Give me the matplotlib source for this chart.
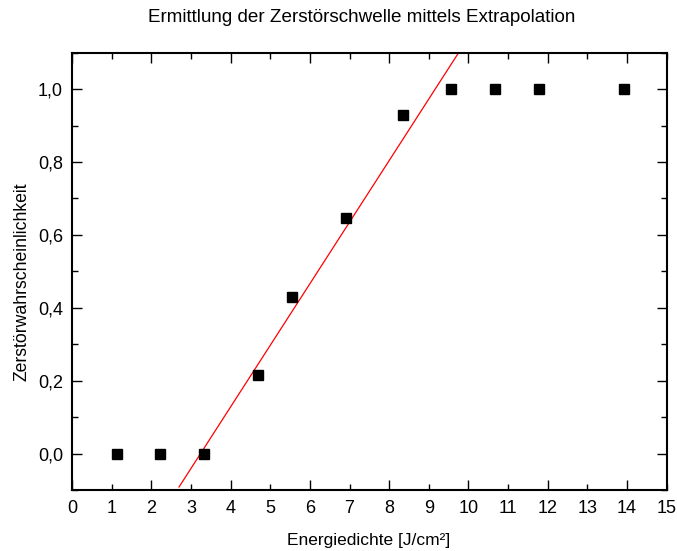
import matplotlib
matplotlib.use("Agg")
import matplotlib.pyplot as plt
import numpy as np
from matplotlib.ticker import MultipleLocator, FuncFormatter

# Data
energy = [1.13, 2.22, 3.33, 4.68, 5.55, 6.91, 8.36, 9.56, 10.66, 11.78, 13.93]
probability = [0.0, 0.0, 0.0, 0.215, 0.429, 0.646, 0.930, 1.0, 1.0, 1.0, 1.0]

# Linear extrapolation fit: y = slope * x + intercept
fit_slope = 0.169
fit_intercept = -0.548
fit_x_range = [2.70, 9.80]

title = "Ermittlung der Zerstörschwelle mittels Extrapolation"
xlabel = "Energiedichte [J/cm²]"
ylabel = "Zerstörwahrscheinlichkeit"

plt.rcParams['font.family'] = ['Liberation Sans', 'DejaVu Sans']

W, H = 677, 551
fig = plt.figure(figsize=(W / 100, H / 100), dpi=100)
ax = fig.add_axes([72 / W, 1 - 490 / H, (666.7 - 72) / W, (490 - 52.7) / H])

fx = np.array(fit_x_range)
ax.plot(fx, fit_slope * fx + fit_intercept, color='red', lw=0.9, zorder=2)
ax.plot(energy, probability, linestyle='none', marker='s', ms=7.2,
        color='black', zorder=3)

ax.set_xlim(0, 15)
ax.set_ylim(-0.1, 1.1)

ax.xaxis.set_major_locator(MultipleLocator(2))
ax.xaxis.set_minor_locator(MultipleLocator(1))
ax.xaxis.set_major_formatter(FuncFormatter(lambda v, p: f"{v:.0f}"))
ax.xaxis.set_minor_formatter(FuncFormatter(lambda v, p: f"{v:.0f}"))
ax.yaxis.set_major_locator(MultipleLocator(0.2))
ax.yaxis.set_minor_locator(MultipleLocator(0.1))
ax.yaxis.set_major_formatter(FuncFormatter(lambda v, p: f"{v:.1f}".replace('.', ',').replace('-0,0', '0,0')))

ax.tick_params(which='both', direction='in', top=True, right=True, width=1.0,
               labelsize=13, colors='black')
ax.tick_params(which='major', length=7)
ax.tick_params(which='minor', length=4)
ax.tick_params(axis='x', which='both', pad=7)
ax.tick_params(axis='y', which='both', pad=6.5)
ax.tick_params(axis='x', which='minor', labelbottom=True)
ax.tick_params(labeltop=False, labelright=False)

for s in ax.spines.values():
    s.set_linewidth(1.5)

fig.text(362 / W, 1 - 18 / H, title, ha='center', va='center', fontsize=13.6)
fig.text(369 / W, 1 - 540 / H, xlabel, ha='center', va='center', fontsize=12.5)
fig.text(22 / W, 1 - 281.5 / H, ylabel, ha='center', va='center',
         rotation=90, fontsize=12.7)

fig.savefig("out.png", dpi=100)
